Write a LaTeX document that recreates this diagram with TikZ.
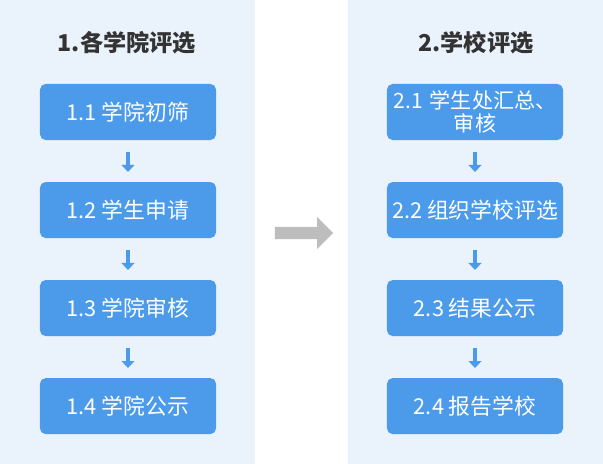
\documentclass[tikz,border=0pt]{standalone}
\usepackage{fontspec}
\setmainfont{Noto Sans CJK SC}
\usetikzlibrary{shapes.arrows, arrows.meta}
\definecolor{panelbg}{HTML}{EAF3FC}
\definecolor{boxblue}{HTML}{4C9BEB}
\definecolor{greyarrow}{HTML}{BDBDBD}
\definecolor{titlegrey}{HTML}{333333}

\begin{document}
\begin{tikzpicture}[x=0.025cm, y=-0.025cm, node distance=2.45cm]
        \tikzstyle{panel} = [fill=panelbg, draw=none]
        \tikzstyle{title} = [font=\bfseries\fontsize{16.5}{19}\selectfont, text=titlegrey]
        \tikzstyle{stepbox} = [rectangle, rounded corners=4pt, minimum width=4.4cm, minimum height=1.4cm, text centered, fill=boxblue, text=white, font=\fontsize{15.5}{17}\selectfont, align=center, inner sep=1pt]
        \tikzstyle{arrow} = [draw=boxblue, line width=2.5pt, -{Triangle[length=5pt,width=9pt]}]

        \useasboundingbox (0,0) rectangle (603,464);
        \fill[panel] (0,0) rectangle (255,464);
        \fill[panel] (348,0) rectangle (603,464);

        \node (ltitle) [title] at (127,43) {1.各学院评选};
        \node (rtitle) [title] at (476,43) {2.学校评选};

        \node (a1) [stepbox] at (128,112) {1.1 学院初筛};
        \node (a2) [stepbox, below of=a1] {1.2 学生申请};
        \node (a3) [stepbox, below of=a2] {1.3 学院审核};
        \node (a4) [stepbox, below of=a3] {1.4 学院公示};

        \node (b1) [stepbox, text width=4.3cm, font=\fontsize{15}{16}\selectfont] at (475,112) {2.1 学生处汇总、\\审核};
        \node (b2) [stepbox, below of=b1] {2.2 组织学校评选};
        \node (b3) [stepbox, below of=b2] {2.3 结果公示};
        \node (b4) [stepbox, below of=b3] {2.4 报告学校};

        \draw [arrow] (a1) ++(0,40) -- ++(0,20);
        \draw [arrow] (a2) ++(0,40) -- ++(0,20);
        \draw [arrow] (a3) ++(0,40) -- ++(0,20);
        \draw [arrow] (b1) ++(0,40) -- ++(0,20);
        \draw [arrow] (b2) ++(0,40) -- ++(0,20);
        \draw [arrow] (b3) ++(0,40) -- ++(0,20);

        \node (mid) [single arrow, fill=greyarrow, minimum height=1.45cm, minimum width=0.8cm, single arrow head extend=2pt, inner sep=1pt] at (301,233) {};
    \end{tikzpicture}
\end{document}
